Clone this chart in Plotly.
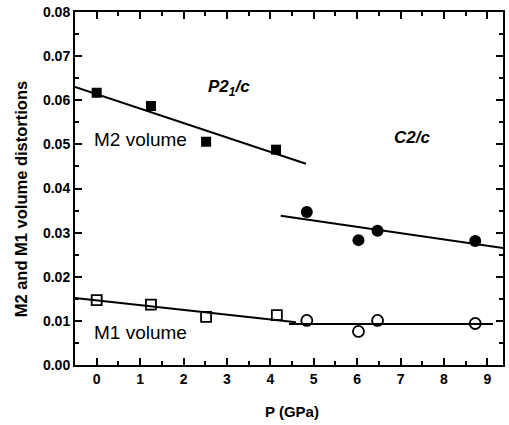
import plotly.graph_objects as go

# Data
m2_p = [0.0, 1.25, 2.52, 4.13]
m2_v = [0.0617, 0.0587, 0.0506, 0.0488]
m2c_p = [4.84, 6.03, 6.47, 8.72]
m2c_v = [0.0347, 0.0283, 0.0304, 0.0281]
m1_p = [0.0, 1.25, 2.52, 4.15]
m1_v = [0.0147, 0.0137, 0.0109, 0.0113]
m1c_p = [4.84, 6.03, 6.47, 8.72]
m1c_v = [0.0101, 0.0076, 0.0101, 0.0094]

# Fit lines (endpoints)
fit_m2_p = [-0.5, 4.82]
fit_m2_v = [0.0630, 0.0456]
fit_m2c_p = [4.24, 9.36]
fit_m2c_v = [0.0338, 0.0265]
fit_m1_p = [-0.5, 4.59]
fit_m1_v = [0.0152, 0.0097]
fit_m1c_p = [4.43, 9.13]
fit_m1c_v = [0.0093, 0.0093]

x_title = "P (GPa)"
y_title = "M2 and M1 volume distortions"

FONT = "Liberation Sans, Arial"

fig = go.Figure()
for xs, ys in [(fit_m2_p, fit_m2_v), (fit_m2c_p, fit_m2c_v), (fit_m1_p, fit_m1_v), (fit_m1c_p, fit_m1c_v)]:
    fig.add_trace(go.Scatter(x=xs, y=ys, mode="lines", line=dict(color="black", width=2), showlegend=False))

fig.add_trace(go.Scatter(x=m2_p, y=m2_v, mode="markers",
                         marker=dict(symbol="square", size=10, color="black"), showlegend=False))
fig.add_trace(go.Scatter(x=m2c_p, y=m2c_v, mode="markers",
                         marker=dict(symbol="circle", size=12, color="black"), showlegend=False))
fig.add_trace(go.Scatter(x=m1_p, y=m1_v, mode="markers",
                         marker=dict(symbol="square-open", size=10, color="black", line=dict(width=1.8)), showlegend=False))
fig.add_trace(go.Scatter(x=m1c_p, y=m1c_v, mode="markers",
                         marker=dict(symbol="circle-open", size=11, color="black", line=dict(width=1.8)), showlegend=False))

axis_common = dict(showline=True, linecolor="black", linewidth=2, mirror="ticks",
                   ticks="inside", ticklen=7, tickwidth=1.5, tickcolor="black",
                   showgrid=False, zeroline=False,
                   tickfont=dict(family=FONT, size=14, color="black", weight="bold"))

fig.update_xaxes(range=[-0.5, 9.36], dtick=1, tick0=0,
                 minor=dict(ticks="inside", ticklen=4, tickwidth=1.5, tickcolor="black", dtick=0.5),
                 **axis_common)
fig.update_yaxes(range=[0, 0.08], dtick=0.01, tickformat=".2f",
                 minor=dict(ticks="inside", ticklen=4, tickwidth=1.5, tickcolor="black", dtick=0.005),
                 **axis_common)

ann = [
    dict(x=3.05, y=0.0628, text="<b><i>P2<sub>1</sub>/c</i></b>", size=17),
    dict(x=7.26, y=0.0515, text="<b><i>C2/c</i></b>", size=17),
    dict(x=1.02, y=0.0510, text="M2 volume", size=19),
    dict(x=1.02, y=0.0073, text="M1 volume", size=19),
]
for a in ann:
    fig.add_annotation(x=a["x"], y=a["y"], text=a["text"], showarrow=False,
                       xanchor="center", yanchor="middle",
                       font=dict(family=FONT, size=a["size"], color="black"))

# axis titles as paper-positioned annotations
fig.add_annotation(xref="paper", yref="paper", x=0.508, y=-0.133, text=x_title, showarrow=False,
                   xanchor="center", yanchor="middle",
                   font=dict(family=FONT, size=15, color="black", weight="bold"))
fig.add_annotation(xref="paper", yref="paper", x=-0.1256, y=0.47, text=y_title, showarrow=False,
                   textangle=-90, xanchor="center", yanchor="middle",
                   font=dict(family=FONT, size=16.5, color="black", weight="bold"))

fig.update_layout(width=509, height=425, margin=dict(l=75, r=4, t=12, b=60),
                  plot_bgcolor="white", paper_bgcolor="white",
                  font=dict(family=FONT, size=12, color="black"))
fig.write_html("out.html", config={"displayModeBar": False},
               post_script="document.body.style.margin='0';")
